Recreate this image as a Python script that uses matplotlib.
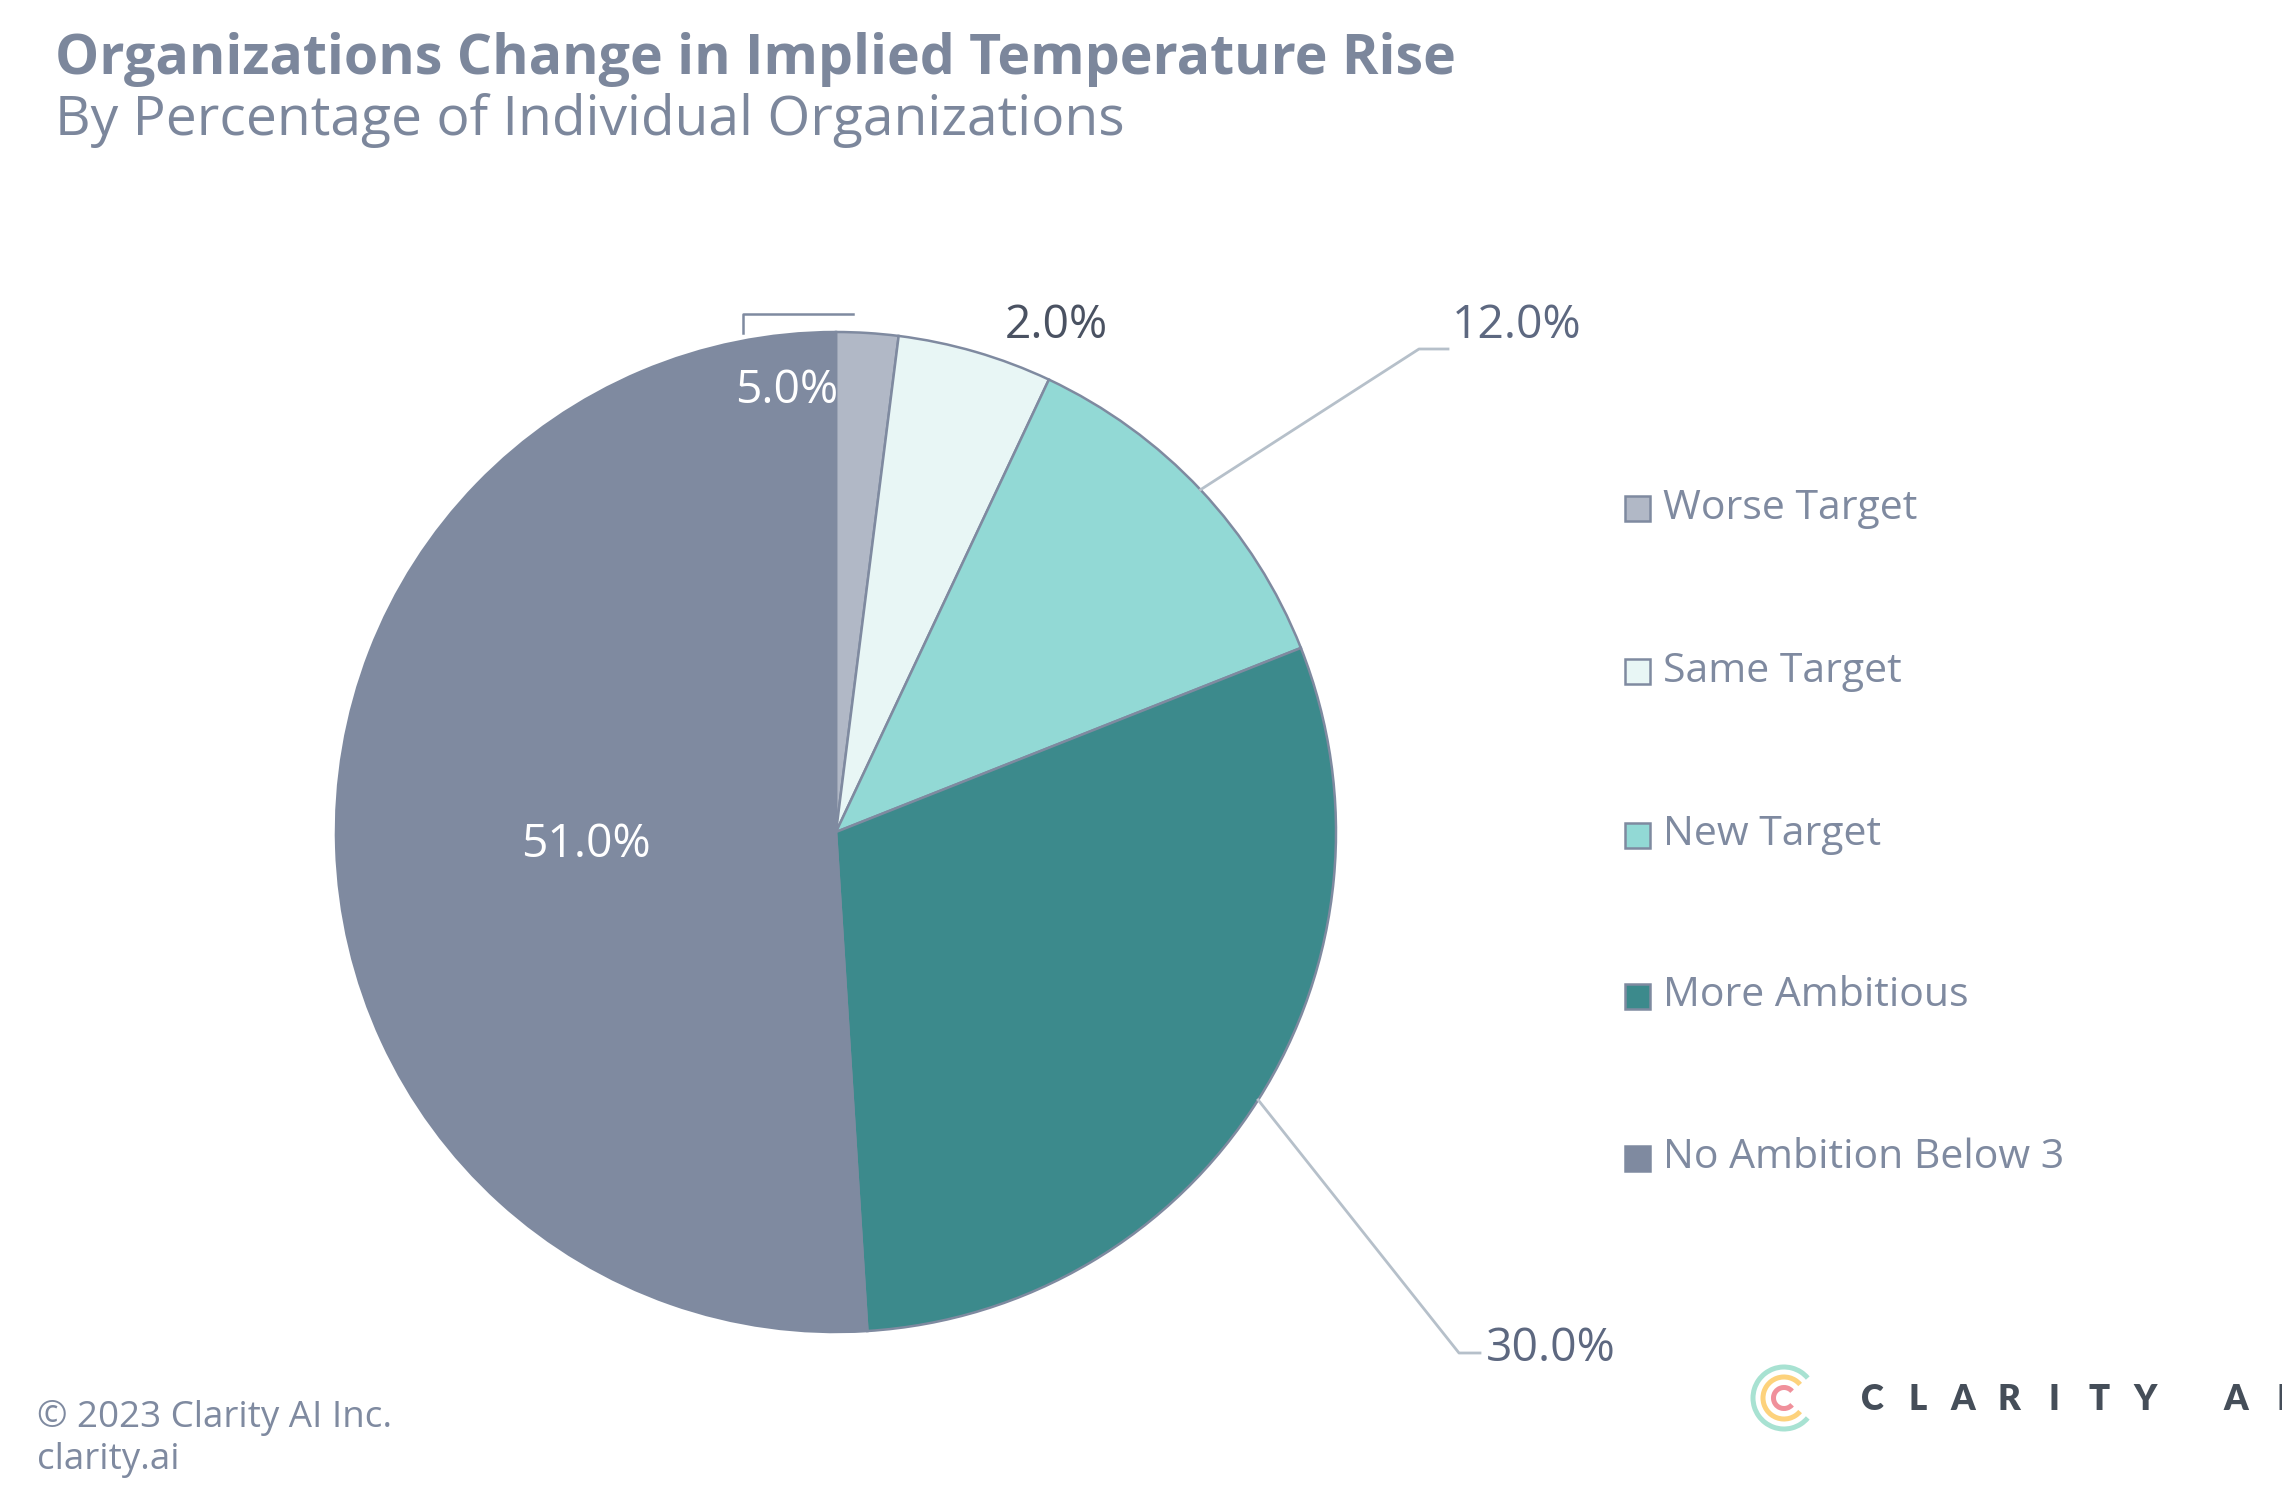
import numpy as np
import matplotlib.pyplot as plt
from matplotlib.patches import Arc, Rectangle

W, H = 2282, 1503

categories = ['Worse Target', 'Same Target', 'New Target', 'More Ambitious', 'No Ambition Below 3']
shares = [2.0, 5.0, 12.0, 30.0, 51.0]
colors = ['#b1b8c6', '#e8f6f5', '#92d9d5', '#3c8a8c', '#7f8aa0']

title = 'Organizations Change in Implied Temperature Rise'
subtitle = 'By Percentage of Individual Organizations'
footer = ['\u00a9 2023 Clarity AI Inc.', 'clarity.ai']
logo_text = 'CLARITY AI'

plt.rcParams['font.family'] = ['Open Sans', 'DejaVu Sans']

fig = plt.figure(figsize=(W / 100, H / 100), dpi=100)
fig.patch.set_facecolor('white')

def px(x, y):
    # pixel coords (from top-left) -> figure fraction
    return x / W, 1 - y / H

# pie axes: centre (836, 832), radius 500 px
cx, cy, r = 836, 832, 500
ax = fig.add_axes([(cx - r) / W, (H - cy - r) / H, 2 * r / W, 2 * r / H])
wedges, _ = ax.pie(shares, colors=colors, startangle=90, counterclock=False,
                   radius=1.0, wedgeprops=dict(edgecolor='#7f8aa0', linewidth=1.8))
ax.set_xlim(-1, 1)
ax.set_ylim(-1, 1)
ax.set_aspect('equal')
ax.axis('off')

def mid_angle(w):
    return np.deg2rad((w.theta1 + w.theta2) / 2)

lbl = [f'{v:.1f}%' for v in shares]
lab_size = 33.3
dy = -0.008

# Worse Target: outside, no connector
ax.text(0.44, 1.02 + dy, lbl[0], fontsize=lab_size, color='#4a5262', ha='center', va='center')

# Same Target: white label with bracket connector
ax.text(-0.098, 0.89 + dy, lbl[1], fontsize=lab_size, color='white', ha='center', va='center')
ax.plot([-0.186, -0.186, 0.034], [0.998, 1.036, 1.036], color='#7f8aa0', lw=1.8, clip_on=False)

# New Target / More Ambitious: outside labels with elbow leaders
outside = {2: ((1.166, 0.966), 1.224, (1.232, 1.02)),
           3: ((1.246, -1.042), 1.288, (1.300, -1.026))}
for i, (elbow, xend, tpos) in outside.items():
    a = mid_angle(wedges[i])
    ax.plot([np.cos(a), elbow[0], xend], [np.sin(a), elbow[1], elbow[1]],
            color='#b6c0ca', lw=2.0, clip_on=False)
    ax.text(tpos[0], tpos[1] + dy, lbl[i], fontsize=lab_size, color='#5d6880',
            ha='left', va='center')

# No Ambition: inside label
ax.text(-0.5, -0.018 + dy, lbl[4], fontsize=lab_size, color='white', ha='center', va='center')

# titles
tcol = '#7c879c'
fig.text(*px(55, 74), title, fontsize=40, fontweight='bold', color=tcol, va='baseline')
fig.text(*px(55, 135), subtitle, fontsize=39.7, color=tcol, va='baseline')

# legend
leg_y = [509, 672, 835, 996, 1158]
sq = 25
for name, col, y in zip(categories, colors, leg_y):
    x0, y0 = px(1625, y + sq / 2)
    fig.patches.append(Rectangle((x0, y0), sq / W, sq / H, transform=fig.transFigure,
                                 facecolor=col, edgecolor='#7f8aa0', linewidth=1.8))
    fig.text(*px(1663, y), name, fontsize=29.5, color='#7f8aa0', va='center')

# footer
fig.text(*px(37, 1427), footer[0], fontsize=26.5, color='#7f8aa0', va='baseline')
fig.text(*px(37, 1469), footer[1], fontsize=26.5, color='#7f8aa0', va='baseline')

# logo
lax = fig.add_axes([(1784 - 40) / W, (H - 1398 - 40) / H, 80 / W, 80 / H])
lax.set_xlim(-40, 40)
lax.set_ylim(-40, 40)
lax.axis('off')
for rad, col in zip([31, 21, 10.5], ['#a8e2d2', '#fdd27c', '#f0909b']):
    lax.add_patch(Arc((0, 0), 2 * rad, 2 * rad, theta1=40, theta2=320, color=col, lw=3.6))

slots = [0, 1, 2, 3, 4, 5, 6, 8, 9]
letters = logo_text.replace(' ', '')
for k, ch in zip(slots, letters):
    fig.text(*px(1872 + 45.5 * k, 1399), ch, fontsize=25, fontweight='heavy',
             color='#454e59', ha='center', va='center', family=['Lato', 'DejaVu Sans'])

fig.savefig('out.png', dpi=100, facecolor='white')
